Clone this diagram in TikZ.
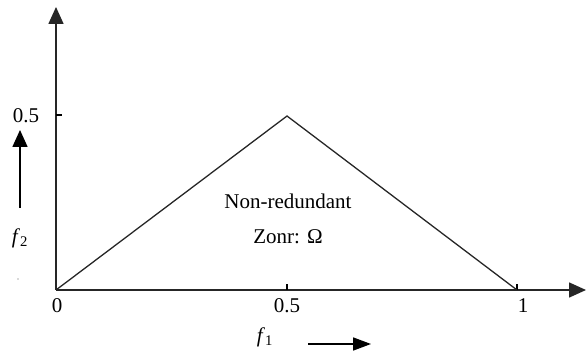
\documentclass[tikz,border=0pt]{standalone}
\usepackage{fontspec}
\setmainfont{Liberation Serif}
\usetikzlibrary{arrows.meta}
\begin{document}
\begin{tikzpicture}[x=1pt,y=-1pt,>={Triangle[width=15pt,length=17pt]},
  font=\fontsize{21}{25}\selectfont,
  axis/.style={line width=1.6pt,black!85},
  lbl/.style={inner sep=0pt}]
  \useasboundingbox (0,0) rectangle (586,352);
  % axes
  \coordinate (O) at (56,290);
  \coordinate (ytop) at (56,7);
  \coordinate (xend) at (586,290);
  \draw[axis,->] (O)--(ytop);
  \draw[axis,->] (O)--(xend);
  % ticks
  \coordinate (yhalf) at (56,115);
  \coordinate (xhalf) at (287,290);
  \coordinate (xone) at (517,290);
  \draw[line width=1.2pt] (yhalf)--++(6,0);
  \draw[line width=1.2pt] (xhalf)--++(0,-6);
  \draw[line width=1.2pt] (xone)--++(0,-6);
  \node[lbl] (lyhalf) at (26,116) {0.5};
  \node[lbl] (lzero) at (57,306) {0};
  \node[lbl] (lxhalf) at (287,306) {0.5};
  \node[lbl] (lxone) at (523,306) {1};
  % zone
  \coordinate (apex) at (287,116);
  \draw[line width=1.3pt,black!85] (O)--(apex)--(xone);
  \node[lbl] (zone) at (288,201) {Non-redundant};
  \node[lbl] (omega) at (288,237) {Zonr: Ω};
  % variable arrows
  \node[lbl] (ftwo) at (20,238) {\textit{f}\textsubscript{2}};
  \coordinate (ftwoA) at (20,208);
  \coordinate (ftwoB) at (20,130);
  \draw[line width=1.6pt,->] (ftwoA)--(ftwoB);
  \fill[gray!60] (18,279) circle(0.9pt);
  \node[lbl] (fone) at (265,337) {\textit{f}\textsubscript{1}};
  \coordinate (foneA) at (308,344);
  \coordinate (foneB) at (371,344);
  \draw[line width=1.6pt,->,>={Triangle[width=13pt,length=18pt]}] (foneA)--(foneB);
\end{tikzpicture}
\end{document}
